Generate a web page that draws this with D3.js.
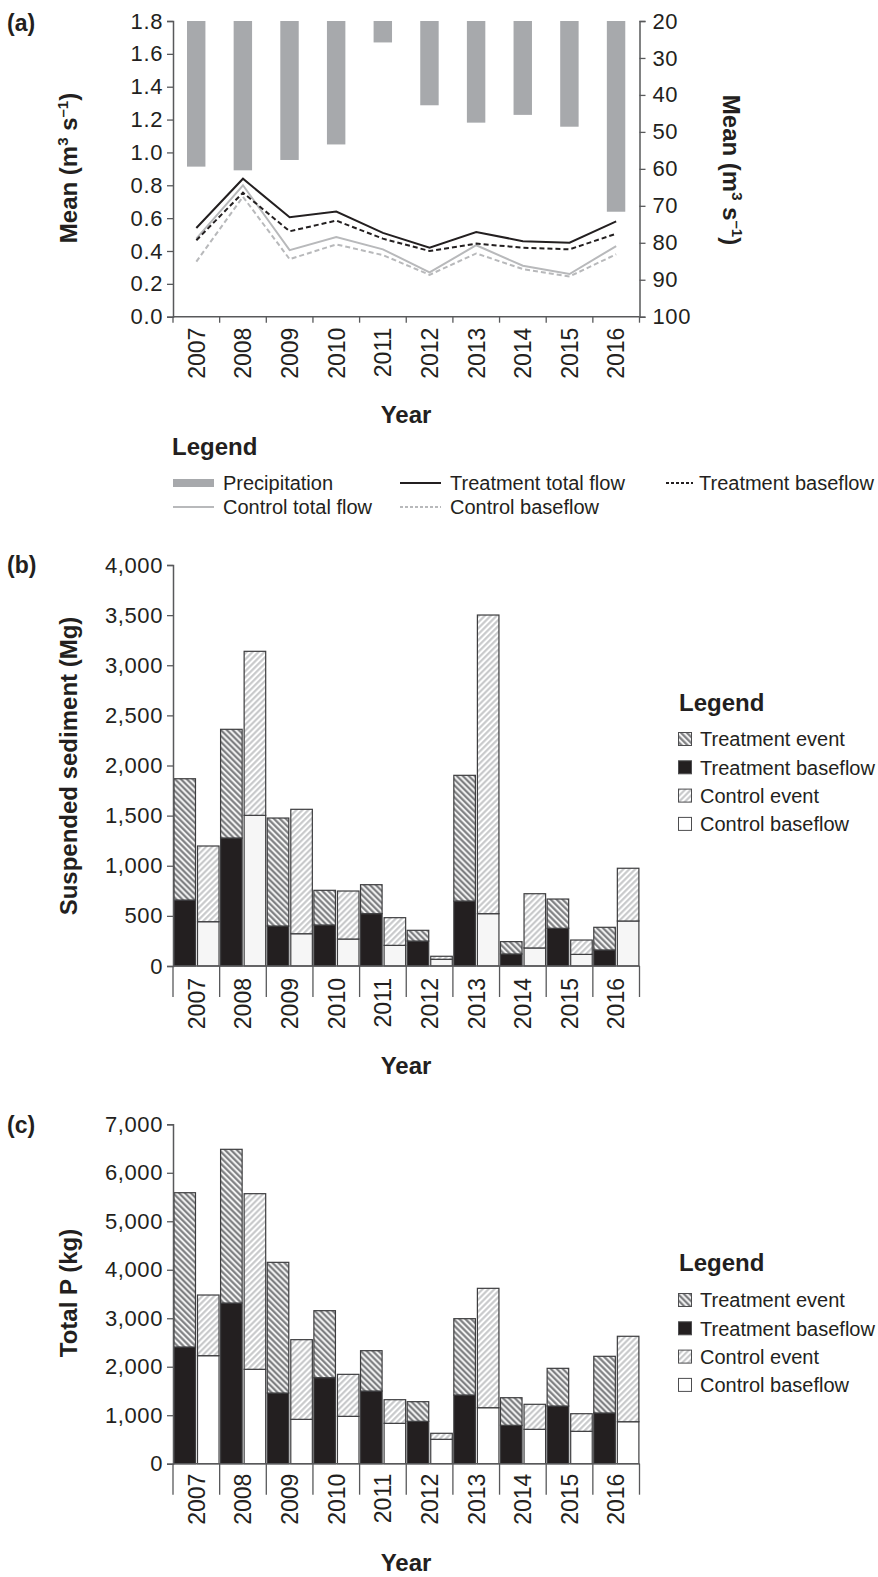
<!DOCTYPE html>
<html>
<head>
<meta charset="utf-8">
<script src="https://cdn.jsdelivr.net/npm/d3@7/dist/d3.min.js"></script>
<style>
  html, body { margin: 0; padding: 0; background: #fff; }
  svg { display: block; font-family: "Liberation Sans", Arial, sans-serif; }
</style>
</head>
<body>
<svg id="fig" width="878" height="1577"></svg>
<script>
// ---- data ---------------------------------------------------------------
const years = [2007, 2008, 2009, 2010, 2011, 2012, 2013, 2014, 2015, 2016];

// (a) mean annual precipitation and mean flows
const precipitation      = [59.4, 60.4, 57.6, 53.4, 25.8, 42.8, 47.5, 45.4, 48.6, 71.6];
const treatmentTotalFlow = [0.54, 0.84, 0.605, 0.64, 0.51, 0.42, 0.515, 0.46, 0.45, 0.58];
const treatmentBaseflowQ = [0.465, 0.755, 0.52, 0.585, 0.475, 0.40, 0.445, 0.42, 0.41, 0.505];
const controlTotalFlow   = [0.475, 0.80, 0.405, 0.485, 0.41, 0.27, 0.435, 0.31, 0.26, 0.43];
const controlBaseflowQ   = [0.335, 0.73, 0.35, 0.44, 0.375, 0.255, 0.385, 0.29, 0.245, 0.38];

// (b) suspended sediment (Mg)
const sedTreatmentBase  = [658, 1277, 399, 409, 522, 249, 648, 120, 376, 160];
const sedTreatmentEvent = [1210, 1084, 1077, 346, 289, 107, 1254, 123, 292, 226];
const sedControlBase    = [442, 1503, 322, 269, 206, 67, 522, 180, 116, 449];
const sedControlEvent   = [755, 1636, 1241, 479, 276, 30, 2979, 541, 143, 526];

// (c) total phosphorus (kg)
const tpTreatmentBase  = [2407, 3314, 1458, 1774, 1499, 874, 1417, 792, 1190, 1046];
const tpTreatmentEvent = [3182, 3170, 2695, 1382, 832, 405, 1574, 569, 777, 1169];
const tpControlBase    = [2228, 1947, 915, 977, 833, 503, 1155, 709, 668, 866];
const tpControlEvent   = [1251, 3622, 1643, 866, 487, 124, 2462, 516, 363, 1762];

const leftTicksA  = [0, 0.2, 0.4, 0.6, 0.8, 1.0, 1.2, 1.4, 1.6, 1.8];
const rightTicksA = [20, 30, 40, 50, 60, 70, 80, 90, 100];
const ticksB = [0, 500, 1000, 1500, 2000, 2500, 3000, 3500, 4000];
const ticksC = [0, 1000, 2000, 3000, 4000, 5000, 6000, 7000];

// ---- styling ------------------------------------------------------------
const INK = "#231f20";
const AXIS = "#58595b";
const PRECIP = "#a7a9ac";
const LIGHT = "#b8b9bb";

const svg = d3.select("#fig");
const defs = svg.append("defs");

function stripePattern(id, angle, stroke, bg) {
  const p = defs.append("pattern")
    .attr("id", id)
    .attr("patternUnits", "userSpaceOnUse")
    .attr("width", 4.2).attr("height", 4.2)
    .attr("patternTransform", `rotate(${angle})`);
  p.append("rect").attr("width", 4.2).attr("height", 4.2).attr("fill", bg);
  p.append("line").attr("x1", 1.2).attr("x2", 1.2).attr("y1", 0).attr("y2", 4.2)
    .attr("stroke", stroke).attr("stroke-width", 2);
}
stripePattern("treatEvent", -45, "#757679", "#f2f2f2");
stripePattern("ctrlEvent", 45, "#c4c5c7", "#ffffff");

const x = d3.scaleBand().domain(years).range([173, 639.5]).padding(0);
const bw = x.bandwidth();

function yearAxis(g, y0, tickLen, labelOffset) {
  g.append("line").attr("x1", x.range()[0]).attr("x2", x.range()[1])
    .attr("y1", y0).attr("y2", y0).attr("stroke", AXIS).attr("stroke-width", 1.5);
  const bounds = years.map(d => x(d)).concat([x.range()[1]]);
  g.selectAll(null).data(bounds).join("line")
    .attr("x1", d => d).attr("x2", d => d)
    .attr("y1", y0).attr("y2", y0 + tickLen)
    .attr("stroke", AXIS).attr("stroke-width", 1.3);
  g.selectAll(null).data(years).join("text")
    .attr("transform", d => `translate(${x(d) + bw / 2},${y0 + labelOffset}) rotate(-90)`)
    .attr("text-anchor", "end").attr("dy", "0.36em")
    .attr("font-size", 23).attr("fill", INK)
    .text(d => d);
}

function styleTickText(sel) {
  sel.attr("font-size", 22).attr("letter-spacing", 0.6).attr("fill", INK)
    .attr("font-family", "Liberation Sans, Arial, sans-serif");
}

function leftAxis(g, scale, ticks, fmt) {
  const ax = d3.axisLeft(scale).tickValues(ticks).tickFormat(fmt).tickSize(6).tickPadding(4);
  g.attr("transform", "translate(173,0)").call(ax);
  g.select(".domain").attr("stroke", AXIS).attr("stroke-width", 1.5);
  g.selectAll(".tick line").attr("stroke", AXIS).attr("stroke-width", 1.3);
  styleTickText(g.selectAll(".tick text"));
}

function yTitle(cy, parts) {
  const t = svg.append("text")
    .attr("transform", `translate(77,${cy}) rotate(-90)`)
    .attr("text-anchor", "middle").attr("font-size", 24).attr("font-weight", "bold").attr("fill", INK);
  parts(t);
}

function flowUnits(t) {
  t.append("tspan").text("Mean (m");
  t.append("tspan").attr("font-size", 15).attr("dy", -9).text("3");
  t.append("tspan").attr("dy", 9).text(" s");
  t.append("tspan").attr("font-size", 15).attr("dy", -9).text("\u20131");
  t.append("tspan").attr("dy", 9).text(")");
}

function panelLabel(txt, yb) {
  svg.append("text").attr("x", 7).attr("y", yb).attr("font-size", 23)
    .attr("font-weight", "bold").attr("fill", INK).text(txt);
}

function xTitle(yb) {
  svg.append("text").attr("x", 406).attr("y", yb).attr("text-anchor", "middle")
    .attr("font-size", 24).attr("font-weight", "bold").attr("fill", INK).text("Year");
}

// ---- panel (a) ----------------------------------------------------------
const yA = d3.scaleLinear().domain([0, 1.8]).range([316.7, 21]);
const yP = d3.scaleLinear().domain([20, 100]).range([21, 316.7]);

const gA = svg.append("g");
gA.selectAll(null).data(years).join("rect")
  .attr("x", d => x(d) + bw * 0.3)
  .attr("width", bw * 0.395)
  .attr("y", yP(20))
  .attr("height", (d, i) => yP(precipitation[i]) - yP(20))
  .attr("fill", PRECIP);

const flowSeries = [
  { v: controlBaseflowQ, color: LIGHT, dash: "5,3" },
  { v: controlTotalFlow, color: LIGHT, dash: null },
  { v: treatmentBaseflowQ, color: INK, dash: "5,3" },
  { v: treatmentTotalFlow, color: INK, dash: null }
];
const line = d3.line().x((d, i) => x(years[i]) + bw / 2).y(d => yA(d));
gA.selectAll(null).data(flowSeries).join("path")
  .attr("d", s => line(s.v))
  .attr("fill", "none")
  .attr("stroke", s => s.color)
  .attr("stroke-width", 2)
  .attr("stroke-dasharray", s => s.dash);

leftAxis(svg.append("g"), yA, leftTicksA, d3.format(".1f"));
const rAx = svg.append("g").attr("transform", "translate(639.5,0)")
  .call(d3.axisRight(yP).tickValues(rightTicksA).tickSize(6).tickPadding(7));
rAx.select(".domain").attr("stroke", AXIS).attr("stroke-width", 1.5);
rAx.selectAll(".tick line").attr("stroke", AXIS).attr("stroke-width", 1.3);
styleTickText(rAx.selectAll(".tick text"));

yearAxis(svg.append("g"), 316.7, 6, 11);
yTitle(168, flowUnits);
const rt = svg.append("text")
  .attr("transform", "translate(723,170) rotate(90)")
  .attr("text-anchor", "middle").attr("font-size", 24).attr("font-weight", "bold").attr("fill", INK);
flowUnits(rt);
panelLabel("(a)", 31);
xTitle(423);

// legend (a)
const lgA = svg.append("g");
lgA.append("text").attr("x", 172).attr("y", 455).attr("font-size", 24)
  .attr("font-weight", "bold").attr("fill", INK).text("Legend");
const legendA = [
  { label: "Precipitation", kind: "bar", x: 173, y: 483 },
  { label: "Treatment total flow", kind: "line", color: INK, dash: null, x: 400, y: 483 },
  { label: "Treatment baseflow", kind: "line", color: INK, dash: "3,2", x: 666, y: 483, w: 27 },
  { label: "Control total flow", kind: "line", color: LIGHT, dash: null, x: 173, y: 507 },
  { label: "Control baseflow", kind: "line", color: LIGHT, dash: "3,2", x: 400, y: 507 }
];
legendA.forEach(e => {
  const w = e.w || 41;
  if (e.kind === "bar") {
    lgA.append("rect").attr("x", e.x).attr("y", e.y - 4).attr("width", w).attr("height", 8).attr("fill", PRECIP);
  } else {
    lgA.append("line").attr("x1", e.x).attr("x2", e.x + w).attr("y1", e.y).attr("y2", e.y)
      .attr("stroke", e.color).attr("stroke-width", 1.8).attr("stroke-dasharray", e.dash);
  }
  lgA.append("text").attr("x", e.x + w + (e.w ? 6 : 9)).attr("y", e.y).attr("dy", "0.36em")
    .attr("font-size", 20).attr("fill", INK).text(e.label);
});

// ---- stacked bar panels -------------------------------------------------
function stackedPanel(yScale, tBase, tEvent, cBase, cEvent, ticks, ctrlBaseFill) {
  const g = svg.append("g");
  const groups = [
    { off: 0.02, base: tBase, event: tEvent, baseFill: INK, eventFill: "url(#treatEvent)" },
    { off: 0.525, base: cBase, event: cEvent, baseFill: ctrlBaseFill, eventFill: "url(#ctrlEvent)" }
  ];
  groups.forEach(gr => {
    g.selectAll(null).data(years).join("rect")
      .attr("x", d => x(d) + bw * gr.off).attr("width", bw * 0.462)
      .attr("y", (d, i) => yScale(gr.base[i]))
      .attr("height", (d, i) => yScale(0) - yScale(gr.base[i]))
      .attr("fill", gr.baseFill).attr("stroke", "#3d3d3f").attr("stroke-width", 1.2);
    g.selectAll(null).data(years).join("rect")
      .attr("x", d => x(d) + bw * gr.off).attr("width", bw * 0.462)
      .attr("y", (d, i) => yScale(gr.base[i] + gr.event[i]))
      .attr("height", (d, i) => yScale(gr.base[i]) - yScale(gr.base[i] + gr.event[i]))
      .attr("fill", gr.eventFill).attr("stroke", "#3d3d3f").attr("stroke-width", 1.2);
  });
  leftAxis(svg.append("g"), yScale, ticks, d3.format(","));
}

function barLegend(top, rowStart, ctrlBaseFill) {
  const g = svg.append("g");
  g.append("text").attr("x", 679).attr("y", top).attr("font-size", 24)
    .attr("font-weight", "bold").attr("fill", INK).text("Legend");
  const items = [
    { label: "Treatment event", fill: "url(#treatEvent)" },
    { label: "Treatment baseflow", fill: INK },
    { label: "Control event", fill: "url(#ctrlEvent)" },
    { label: "Control baseflow", fill: ctrlBaseFill }
  ];
  items.forEach((it, i) => {
    const cy = rowStart + i * 28.3;
    g.append("rect").attr("x", 678.5).attr("y", cy - 6.5).attr("width", 13).attr("height", 13)
      .attr("fill", it.fill).attr("stroke", "#4d4d4f").attr("stroke-width", 1);
    g.append("text").attr("x", 700).attr("y", cy).attr("dy", "0.36em")
      .attr("font-size", 20).attr("fill", INK).text(it.label);
  });
}

// ---- panel (b) ----------------------------------------------------------
const yB = d3.scaleLinear().domain([0, 4000]).range([966, 565]);
stackedPanel(yB, sedTreatmentBase, sedTreatmentEvent, sedControlBase, sedControlEvent, ticksB, "#f6f6f6");
yearAxis(svg.append("g"), 966, 31, 12);
yTitle(766, t => t.text("Suspended sediment (Mg)"));
panelLabel("(b)", 573);
xTitle(1074);
barLegend(711, 739, "#ffffff");

// ---- panel (c) ----------------------------------------------------------
const yC = d3.scaleLinear().domain([0, 7000]).range([1463.7, 1124.3]);
stackedPanel(yC, tpTreatmentBase, tpTreatmentEvent, tpControlBase, tpControlEvent, ticksC, "#ffffff");
yearAxis(svg.append("g"), 1463.7, 31, 10);
yTitle(1293, t => t.text("Total P (kg)"));
panelLabel("(c)", 1133);
xTitle(1571);
barLegend(1271, 1300, "#ffffff");
</script>
</body>
</html>
